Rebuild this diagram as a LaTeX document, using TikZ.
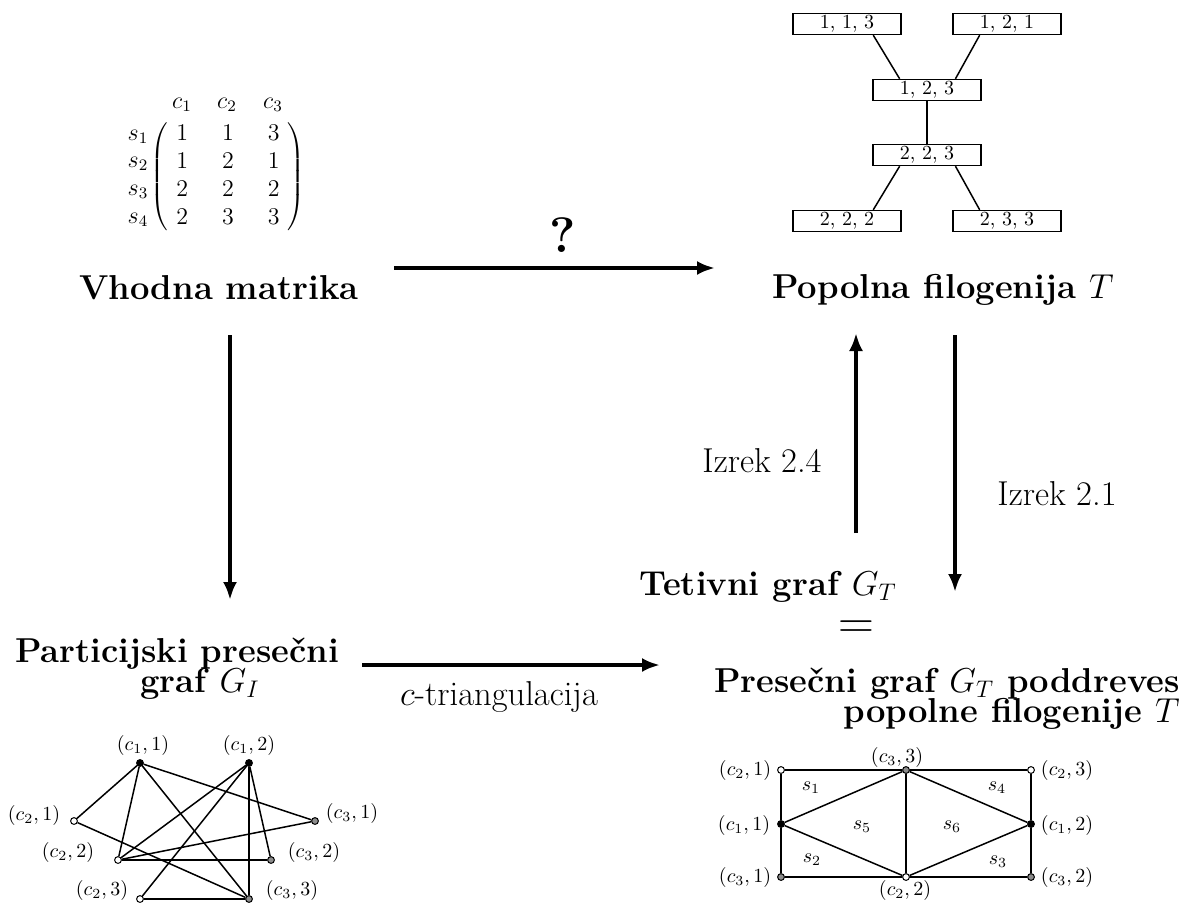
\documentclass[tikz,border=0pt]{standalone}
\usetikzlibrary{arrows.meta,calc}
\begin{document}
\begin{tikzpicture}[x=0.5pt,y=-0.5pt,
  big/.style={font=\LARGE\bfseries,inner sep=0pt},
  med/.style={font=\LARGE,inner sep=0pt},
  arr/.style={line width=2pt,-{Latex[length=9pt,width=7pt]}},
  box/.style={draw,line width=0.7pt,minimum width=54pt,minimum height=10.5pt,inner sep=0pt,font=\normalsize},
  v/.style={circle,draw,line width=0.5pt,inner sep=0pt,minimum size=3.4pt},
  vb/.style={v,fill=black},
  vw/.style={v,fill=white},
  vg/.style={v,fill=black!45},
  e/.style={line width=0.75pt},
  lab/.style={font=\normalsize,inner sep=0pt},
  mx/.style={font=\fontsize{11.5}{13.85}\selectfont,inner sep=0pt}
]
\useasboundingbox (0,0) rectangle (1182,904);

% ---------- matrix ----------
\node[mx] (hc1) at (182,105) {$c_1$};
\node[mx] (hc2) at (227,105) {$c_2$};
\node[mx] (hc3) at (273,105) {$c_3$};
\node[mx] (rs1) at (138,137) {$s_1$};
\node[mx] (rs2) at (138,164) {$s_2$};
\node[mx] (rs3) at (138,192) {$s_3$};
\node[mx] (rs4) at (138,220) {$s_4$};
\node[mx] (mat) at (228,177) {$\left(\begin{array}{@{\hspace{4pt}}c@{\hspace{17pt}}c@{\hspace{17pt}}c@{\hspace{4pt}}}
1 & 1 & 3\\ 1 & 2 & 1\\ 2 & 2 & 2\\ 2 & 3 & 3\end{array}\right)$};

% ---------- tree ----------
\node[box] (t113) at (847,24) {1, 1, 3};
\node[box] (t121) at (1007,24) {1, 2, 1};
\node[box] (t123) at (927,90) {1, 2, 3};
\node[box] (t223) at (927,155) {2, 2, 3};
\node[box] (t222) at (847,221) {2, 2, 2};
\node[box] (t233) at (1007,221) {2, 3, 3};
\draw[e] ($(t113.south west)!0.74!(t113.south east)$) -- ($(t123.north west)!0.25!(t123.north east)$);
\draw[e] ($(t121.south west)!0.25!(t121.south east)$) -- ($(t123.north west)!0.76!(t123.north east)$);
\draw[e] (t123) -- (t223);
\draw[e] ($(t223.south west)!0.25!(t223.south east)$) -- ($(t222.north west)!0.74!(t222.north east)$);
\draw[e] ($(t223.south west)!0.76!(t223.south east)$) -- ($(t233.north west)!0.25!(t233.north east)$);

% ---------- main labels ----------
\node[big,anchor=base] (vhod) at (219,299) {Vhodna matrika};
\node[big,anchor=base] (popol) at (943,298) {Popolna filogenija $T$};
\node[font=\Huge\bfseries,anchor=base,inner sep=0pt] (qm) at (563,252) {?};
\node[big,anchor=base] (part1) at (177,662) {Particijski presečni};
\node[big,anchor=base] (part2) at (200,692) {graf $G_I$};
\node[med,anchor=base] (ctri) at (499,705) {$c$-triangulacija};
\node[big,anchor=base] (tet) at (768,595) {Tetivni graf $G_T$};
\node[font=\Huge,inner sep=0pt] (eq) at (856,630) {$=$};
\node[big,anchor=base east] (pres1) at (1180,692) {Presečni graf $G_T$ poddreves};
\node[big,anchor=base east] (pres2) at (1180,722) {popolne filogenije $T$};
\node[med,anchor=base east] (iz24) at (822,472) {Izrek 2.4};
\node[med,anchor=base west] (iz21) at (997,505) {Izrek 2.1};

% ---------- arrows ----------
\coordinate (qa1) at (394,268);
\coordinate (qa2) at (715,268);
\coordinate (la1) at (230,335);
\coordinate (la2) at (230,600);
\coordinate (ba1) at (362,665);
\coordinate (ba2) at (660,665);
\coordinate (ua1) at (856,533);
\coordinate (ua2) at (856,333);
\coordinate (da1) at (955,335);
\coordinate (da2) at (955,592);
\draw[arr] (qa1) -- (qa2);
\draw[arr] (la1) -- (la2);
\draw[arr] (ba1) -- (ba2);
\draw[arr] (ua1) -- (ua2);
\draw[arr] (da1) -- (da2);

% ---------- left graph ----------
\node[vb] (a11) at (140,763) {};
\node[vb] (a12) at (249,763) {};
\node[vw] (a21) at (74,821) {};
\node[vw] (a22) at (118,860) {};
\node[vw] (a23) at (140,899) {};
\node[vg] (a31) at (315,821) {};
\node[vg] (a32) at (271,860) {};
\node[vg] (a33) at (249,899) {};
\draw[e] (a11) -- (a21);
\draw[e] (a11) -- (a22);
\draw[e] (a11) -- (a33);
\draw[e] (a11) -- (a31);
\draw[e] (a12) -- (a22);
\draw[e] (a12) -- (a23);
\draw[e] (a12) -- (a33);
\draw[e] (a12) -- (a32);
\draw[e] (a21) -- (a33);
\draw[e] (a22) -- (a31);
\draw[e] (a22) -- (a32);
\draw[e] (a23) -- (a33);
\node[lab] (la11) at (143,745) {$(c_1,1)$};
\node[lab] (la12) at (249,745) {$(c_1,2)$};
\node[lab] (la21) at (34,815) {$(c_2,1)$};
\node[lab] (la22) at (68,852) {$(c_2,2)$};
\node[lab] (la23) at (102,890) {$(c_2,3)$};
\node[lab] (la31) at (352,813) {$(c_3,1)$};
\node[lab] (la32) at (314,852) {$(c_3,2)$};
\node[lab] (la33) at (292,890) {$(c_3,3)$};

% ---------- right graph ----------
\node[vw] (b21) at (781,770) {};
\node[vg] (b33) at (906,770) {};
\node[vw] (b23) at (1031,770) {};
\node[vb] (b11) at (781,824) {};
\node[vb] (b12) at (1031,824) {};
\node[vg] (b31) at (781,877) {};
\node[vw] (b22) at (906,877) {};
\node[vg] (b32) at (1031,877) {};
\draw[e] (b21) -- (b33);
\draw[e] (b33) -- (b23);
\draw[e] (b23) -- (b12);
\draw[e] (b12) -- (b32);
\draw[e] (b32) -- (b22);
\draw[e] (b22) -- (b31);
\draw[e] (b31) -- (b11);
\draw[e] (b11) -- (b21);
\draw[e] (b11) -- (b33);
\draw[e] (b11) -- (b22);
\draw[e] (b33) -- (b22);
\draw[e] (b33) -- (b12);
\draw[e] (b22) -- (b12);
\node[lab] (lb21) at (745,770) {$(c_2,1)$};
\node[lab] (lb33) at (897,757) {$(c_3,3)$};
\node[lab] (lb23) at (1067,770) {$(c_2,3)$};
\node[lab] (lb11) at (744,825) {$(c_1,1)$};
\node[lab] (lb12) at (1067,825) {$(c_1,2)$};
\node[lab] (lb31) at (745,877) {$(c_3,1)$};
\node[lab] (lb22) at (905,890) {$(c_2,2)$};
\node[lab] (lb32) at (1067,877) {$(c_3,2)$};
\node[lab] (ls1) at (811,788) {$s_1$};
\node[lab] (ls4) at (997,788) {$s_4$};
\node[lab] (ls5) at (862,827) {$s_5$};
\node[lab] (ls6) at (952,827) {$s_6$};
\node[lab] (ls2) at (812,860) {$s_2$};
\node[lab] (ls3) at (998,862) {$s_3$};
\end{tikzpicture}
\end{document}
